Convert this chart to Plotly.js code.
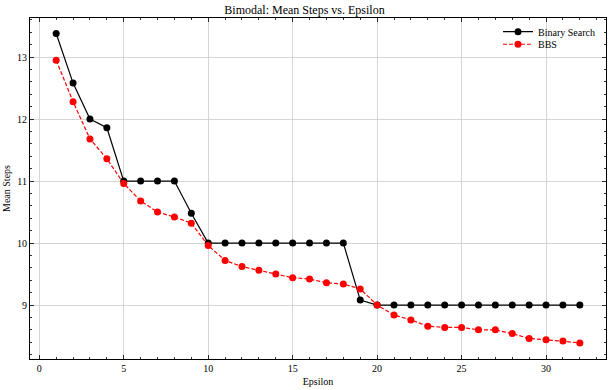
<!DOCTYPE html>
<html>
<head>
<meta charset="utf-8">
<script src="https://cdn.plot.ly/plotly-3.0.1.min.js"></script>
<style>
  html, body { margin: 0; padding: 0; background: #fff; }
  #plot { width: 609px; height: 390px; }
</style>
</head>
<body>
<div id="plot"></div>
<script>
// epsilon values
var epsilon = [];
for (var i = 1; i <= 32; i++) epsilon.push(i);

// mean steps
var binarySearch = [13.38, 12.58, 12.0, 11.86, 11.0, 11.0, 11.0, 11.0, 10.48, 10.0,
                    10.0, 10.0, 10.0, 10.0, 10.0, 10.0, 10.0, 10.0, 9.08, 9.0,
                    9.0, 9.0, 9.0, 9.0, 9.0, 9.0, 9.0, 9.0, 9.0, 9.0, 9.0, 9.0];
var bbs = [12.95, 12.28, 11.68, 11.36, 10.96, 10.68, 10.5, 10.42, 10.32, 9.96,
           9.72, 9.62, 9.56, 9.5, 9.44, 9.42, 9.36, 9.34, 9.26, 9.0,
           8.84, 8.76, 8.66, 8.64, 8.64, 8.6, 8.6, 8.54, 8.46, 8.44, 8.42, 8.39];

var traces = [
    {
        x: epsilon, y: binarySearch, name: 'Binary Search',
        type: 'scatter', mode: 'lines+markers',
        line: { color: 'black', width: 1.2 },
        marker: { color: 'black', size: 7 },
        legend: 'legend'
    },
    {
        x: epsilon, y: bbs, name: 'BBS',
        type: 'scatter', mode: 'lines+markers',
        line: { color: 'red', width: 1.2, dash: '4px,2px' },
        marker: { color: 'red', size: 7 },
        legend: 'legend2'
    }
];

var axisCommon = {
    showline: true, linecolor: 'black', linewidth: 1, mirror: 'ticks',
    ticks: 'inside', ticklen: 4, tickcolor: 'black', tickwidth: 0.8,
    showgrid: true, gridcolor: '#cccccc', gridwidth: 0.8,
    zeroline: false,
    tickfont: { size: 10, color: 'black' }
};

var legendCommon = {
    xanchor: 'left', yanchor: 'middle', x: 0.8125,
    bgcolor: 'rgba(255,255,255,0)', font: { size: 10 }
};

var layout = {
    width: 609, height: 390,
    margin: { l: 30, r: 3, t: 18, b: 31 },
    paper_bgcolor: 'white', plot_bgcolor: 'white',
    font: { family: '"Liberation Serif", "Times New Roman", serif', color: 'black' },
    title: { text: 'Bimodal: Mean Steps vs. Epsilon', font: { size: 12 }, x: 0.5, xanchor: 'center', y: 0.985, yanchor: 'top' },
    xaxis: Object.assign({}, axisCommon, {
        range: [-0.55, 33.55], dtick: 5, tick0: 0,
        minor: { ticks: 'inside', dtick: 1, ticklen: 2, tickcolor: 'black', showgrid: false },
        title: { text: 'Epsilon', font: { size: 10 }, standoff: 4 }
    }),
    yaxis: Object.assign({}, axisCommon, {
        range: [8.13, 13.63], dtick: 1, tick0: 9,
        minor: { ticks: 'inside', dtick: 0.2, ticklen: 2, tickcolor: 'black', showgrid: false },
        title: { text: 'Mean Steps', font: { size: 10 }, standoff: 4 }
    }),
    legend: Object.assign({}, legendCommon, { y: 0.960 }),
    legend2: Object.assign({}, legendCommon, { y: 0.923 }),
    showlegend: true
};

Plotly.newPlot('plot', traces, layout, { displayModeBar: false, staticPlot: true });
</script>
</body>
</html>
